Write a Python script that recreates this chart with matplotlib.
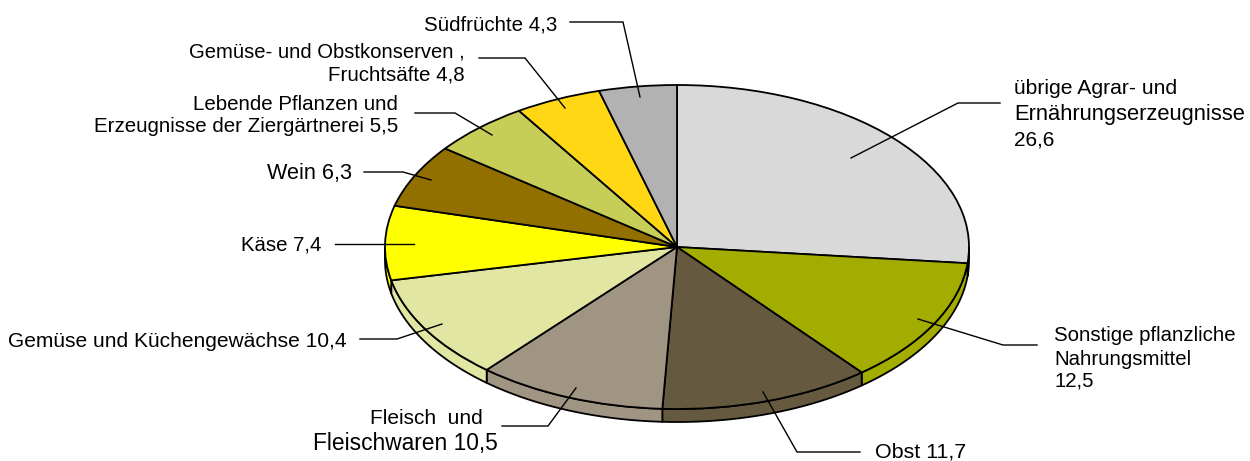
import numpy as np
import matplotlib
matplotlib.use("Agg")
import matplotlib.pyplot as plt
from matplotlib.patches import Polygon

categories = ["übrige Agrar- und Ernährungserzeugnisse", "Sonstige pflanzliche Nahrungsmittel",
              "Obst", "Fleisch und Fleischwaren", "Gemüse und Küchengewächse", "Käse", "Wein",
              "Lebende Pflanzen und Erzeugnisse der Ziergärtnerei",
              "Gemüse- und Obstkonserven, Fruchtsäfte", "Südfrüchte"]
values = [26.6, 12.5, 11.7, 10.5, 10.4, 7.4, 6.3, 5.5, 4.8, 4.3]
colors = ["#D9D9D9", "#A3AD00", "#655A40", "#A09583", "#E1E6A3",
          "#FFFF00", "#917000", "#C6CE58", "#FFD714", "#B2B2B2"]

W, H = 1250, 461
CX, CY, RX, RY, DEPTH = 677, 247, 292, 162, 13

plt.rcParams["font.family"] = ["Liberation Sans", "DejaVu Sans"]
fig = plt.figure(figsize=(W / 100, H / 100), dpi=100)

# pie axes: one data unit equals the ellipse radius in each direction
ax = fig.add_axes([0, 0, 1, 1])
EDGE = 1.3
start = 90.0
for val, col in zip(values, colors):
    a0 = start - val * 3.6
    a1 = start
    start = a0
    lo, hi = max(a0, -180.0), min(a1, 0.0)
    if hi > lo:
        t = np.radians(np.linspace(lo, hi, 80))
        top = np.c_[np.cos(t), np.sin(t)]
        bot = np.c_[np.cos(t[::-1]), np.sin(t[::-1]) - DEPTH / RY]
        ax.add_patch(Polygon(np.r_[top, bot], closed=True, fc=col, ec="black", lw=EDGE, zorder=1))
ax.pie(values, colors=colors, startangle=90, counterclock=False, radius=1, center=(0, 0),
       wedgeprops=dict(edgecolor="black", linewidth=EDGE, zorder=2), normalize=True)
ax.set_aspect("auto")
ax.set_xlim((0 - CX) / RX, (W - CX) / RX)
ax.set_ylim((CY - H) / RY, CY / RY)
ax.axis("off")

# overlay in pixel coordinates for labels and leaders
ov = fig.add_axes([0, 0, 1, 1], facecolor="none")
ov.set_xlim(0, W)
ov.set_ylim(H, 0)
ov.axis("off")

labels = [
    ("übrige Agrar- und", 1014, 89, "left", 15.2),
    ("Ernährungserzeugnisse", 1014, 114, "left", 15.8),
    ("26,6", 1014, 140, "left", 15.0),
    ("Sonstige pflanzliche", 1054, 335, "left", 14.7),
    ("Nahrungsmittel", 1054, 359, "left", 14.7),
    ("12,5", 1054, 381, "left", 14.7),
    ("Obst 11,7", 875, 452, "left", 15.4),
    ("Fleisch  und", 483, 418, "right", 15.0),
    ("Fleischwaren 10,5", 498, 443, "right", 16.4),
    ("Gemüse und Küchengewächse 10,4", 347, 341, "right", 15.1),
    ("Käse 7,4", 321, 245, "right", 14.7),
    ("Wein 6,3", 352, 173, "right", 15.6),
    ("Lebende Pflanzen und", 398, 104, "right", 14.8),
    ("Erzeugnisse der Ziergärtnerei 5,5", 398, 126, "right", 14.8),
    ("Gemüse- und Obstkonserven ,", 465, 52, "right", 14.6),
    ("Fruchtsäfte 4,8", 465, 75, "right", 14.8),
    ("Südfrüchte 4,3", 557, 25, "right", 14.75),
]
for s, x, y, ha, fs in labels:
    ov.text(x, y, s, ha=ha, va="center", fontsize=fs, color="black")

leaders = [
    [(1000, 103), (958, 103), (851, 158)],
    [(1037, 345), (1003, 345), (918, 319)],
    [(860, 452), (797, 452), (763, 392)],
    [(502, 426), (548, 426), (576, 388)],
    [(360, 339), (397, 339), (442, 324)],
    [(335, 244), (387, 244), (414, 244)],
    [(364, 172), (403, 172), (431, 180)],
    [(415, 113), (455, 113), (492, 135)],
    [(479, 58), (525, 58), (565, 108)],
    [(570, 22), (623, 22), (640, 97)],
]
for pts in leaders:
    xs, ys = zip(*pts)
    ov.plot(xs, ys, color="black", lw=1.0, solid_joinstyle="miter")

fig.savefig("out.png", dpi=100, facecolor="white")
